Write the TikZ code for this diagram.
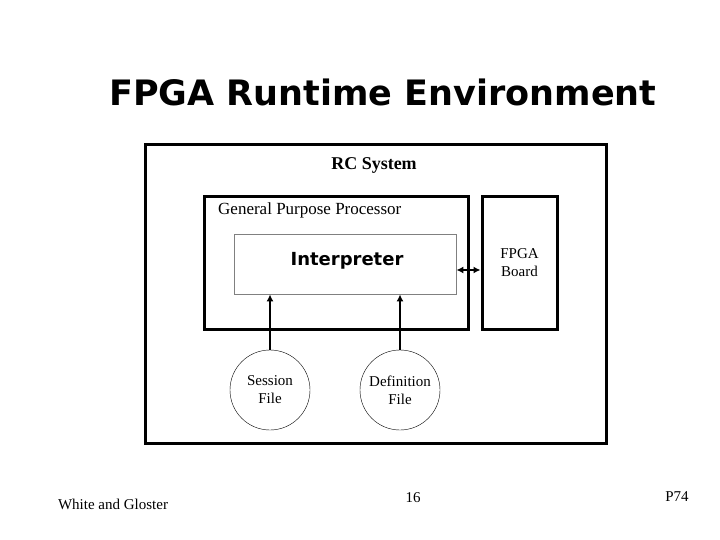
\documentclass[tikz,border=0pt]{standalone}
\usepackage{fontspec}
\setmainfont{Liberation Serif}
\newfontfamily\titlefont{DejaVu Sans}
\usetikzlibrary{arrows.meta}
\begin{document}
\begin{tikzpicture}[x=1pt,y=-1pt,
  thick box/.style={draw, line width=3pt},
  filecirc/.style={draw, circle, minimum size=80pt, inner sep=0pt, align=center, font=\fontsize{15}{18}\selectfont},
  arr/.style={line width=2.4pt, -{Latex[length=7pt,width=7pt]}}]
\useasboundingbox (0,0) rectangle (720,540);
\node (title) at (383,92) {\titlefont\bfseries\fontsize{35}{40}\selectfont FPGA Runtime Environment};
\draw[thick box] (145,145) rectangle (606,443);
\node (rc) at (374,165) {\fontsize{18}{20}\selectfont\bfseries RC System};
\draw[thick box] (204,197) rectangle (468,329);
\node[anchor=west, inner sep=0pt] (gpp) at (218,210) {\fontsize{17}{19}\selectfont General Purpose Processor};
\node[draw=gray, line width=0.8pt, minimum width=222pt, minimum height=60pt, inner sep=0pt] (interp) at (345,264) {};
\node (interpt) at (347,261) {\titlefont\bfseries\fontsize{18}{20}\selectfont Interpreter};
\node[thick box, minimum width=75pt, minimum height=132pt, inner sep=0pt] (fpga) at (519.5,263) {};
\node[align=center, font=\fontsize{15}{18}\selectfont] (fpgat) at (519.5,263) {FPGA\\Board};
\draw[line width=2.6pt, {Latex[length=7pt,width=7pt]}-{Latex[length=7pt,width=7pt]}] (interp.east |- 0,270) -- (fpga.west |- 0,270);
\node[filecirc] (sess) at (270,390) {Session\\File};
\node[filecirc] (def) at (400,390) {Definition\\File};
\draw[arr] (sess.north) -- (sess.north |- interp.south);
\draw[arr] (def.north) -- (def.north |- interp.south);
\node (wg) at (113,504) {\fontsize{15}{17}\selectfont White and Gloster};
\node (num) at (413,498) {\fontsize{15}{17}\selectfont 16};
\node (p) at (677,497) {\fontsize{15}{17}\selectfont P74};
\end{tikzpicture}
\end{document}
